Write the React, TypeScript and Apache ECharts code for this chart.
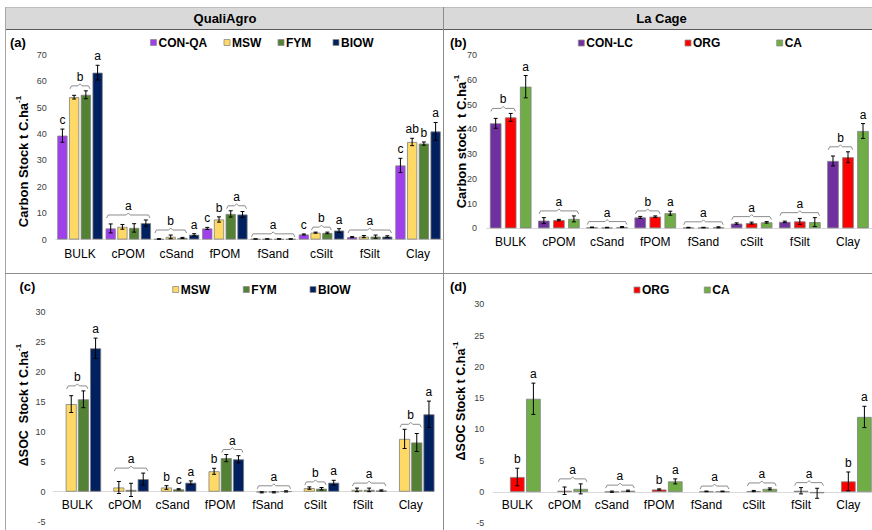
import React, { useEffect, useRef } from 'react';
import * as echarts from 'echarts';

const categories = ['BULK', 'cPOM', 'cSand', 'fPOM', 'fSand', 'cSilt', 'fSilt', 'Clay'];

const qualiNames = ['CON-QA', 'MSW', 'FYM', 'BIOW'];
const qualiColors = ['#a040ec', '#ffd966', '#548235', '#002060'];
const cageNames = ['CON-LC', 'ORG', 'CA'];
const cageColors = ['#7030a0', '#ff0000', '#70ad47'];

// (a) QualiAgro – carbon stock (t C/ha)
const stockCONQA = [39.4, 4.2, 0.2, 4.2, 0.2, 1.9, 0.9, 28.1];
const stockCONQAErr = [2.5, 1.7, 0.1, 0.4, 0.05, 0.2, 0.2, 2.7];
const stockMSW = [54.0, 4.8, 1.0, 7.6, 0.2, 2.6, 1.1, 37.0];
const stockMSWErr = [0.7, 0.9, 0.7, 1.0, 0.05, 0.2, 0.4, 1.4];
const stockFYM = [54.9, 4.4, 0.6, 9.7, 0.2, 2.5, 1.1, 36.4];
const stockFYMErr = [1.5, 1.6, 0.2, 1.2, 0.05, 0.3, 0.6, 0.6];
const stockBIOW = [63.3, 6.2, 1.8, 9.5, 0.2, 3.4, 1.1, 41.0];
const stockBIOWErr = [2.8, 1.2, 0.4, 1.1, 0.05, 0.7, 0.3, 3.4];

// (b) La Cage – carbon stock
const stockCONLC = [42.4, 3.1, 0.4, 4.4, 0.3, 1.9, 2.6, 27.2];
const stockCONLCErr = [2.0, 1.2, 0.1, 0.4, 0.1, 0.3, 0.3, 2.0];
const stockORG = [44.8, 3.3, 0.3, 4.7, 0.3, 2.1, 2.8, 28.7];
const stockORGErr = [1.6, 0.3, 0.1, 0.3, 0.1, 0.4, 1.2, 2.2];
const stockCA = [57.2, 3.8, 0.5, 6.1, 0.4, 2.4, 2.5, 39.3];
const stockCAErr = [4.5, 1.2, 0.2, 0.8, 0.2, 0.3, 1.8, 3.0];

// (c) QualiAgro – delta SOC stock
const deltaMSW = [14.6, 0.7, 0.7, 3.4, -0.1, 0.6, 0.3, 8.8];
const deltaMSWErr = [1.4, 1.0, 0.3, 0.5, 0.1, 0.2, 0.3, 1.6];
const deltaFYM = [15.4, 0.3, 0.4, 5.6, -0.1, 0.5, 0.3, 8.2];
const deltaFYMErr = [1.4, 1.1, 0.1, 0.6, 0.1, 0.2, 0.3, 1.5];
const deltaBIOW = [23.9, 2.1, 1.5, 5.4, 0.05, 1.5, 0.2, 12.9];
const deltaBIOWErr = [1.7, 1.0, 0.3, 0.6, 0.1, 0.4, 0.1, 2.2];

// (d) La Cage – delta SOC stock
const deltaORG = [2.4, 0.2, 0.05, 0.4, 0.1, 0.15, 0.2, 1.7];
const deltaORGErr = [1.4, 0.6, 0.1, 0.1, 0.05, 0.1, 0.5, 1.5];
const deltaCA = [14.9, 0.5, 0.2, 1.7, 0.1, 0.5, -0.2, 12.0];
const deltaCAErr = [2.5, 0.8, 0.1, 0.4, 0.05, 0.15, 0.8, 1.7];

// significance letters per category: [first slot, last slot, letter]
type Grp = [number, number, string];
const lettersA: Grp[][] = [
  [[0, 0, 'c'], [1, 2, 'b'], [3, 3, 'a']],
  [[0, 3, 'a']],
  [[0, 2, 'b'], [3, 3, 'a']],
  [[0, 0, 'c'], [1, 1, 'b'], [2, 3, 'a']],
  [[0, 3, 'a']],
  [[0, 0, 'c'], [1, 2, 'b'], [3, 3, 'a']],
  [[0, 3, 'a']],
  [[0, 0, 'c'], [1, 1, 'ab'], [2, 2, 'b'], [3, 3, 'a']],
];
const lettersB: Grp[][] = [
  [[0, 1, 'b'], [2, 2, 'a']],
  [[0, 2, 'a']],
  [[0, 2, 'a']],
  [[0, 1, 'b'], [2, 2, 'a']],
  [[0, 2, 'a']],
  [[0, 2, 'a']],
  [[0, 2, 'a']],
  [[0, 1, 'b'], [2, 2, 'a']],
];
const lettersC: Grp[][] = [
  [[1, 2, 'b'], [3, 3, 'a']],
  [[1, 3, 'a']],
  [[1, 1, 'b'], [2, 2, 'c'], [3, 3, 'a']],
  [[1, 1, 'b'], [2, 3, 'a']],
  [[1, 3, 'a']],
  [[1, 2, 'b'], [3, 3, 'a']],
  [[1, 3, 'a']],
  [[1, 2, 'b'], [3, 3, 'a']],
];
const lettersD: Grp[][] = [
  [[1, 1, 'b'], [2, 2, 'a']],
  [[1, 2, 'a']],
  [[1, 2, 'a']],
  [[1, 1, 'b'], [2, 2, 'a']],
  [[1, 2, 'a']],
  [[1, 2, 'a']],
  [[1, 2, 'a']],
  [[1, 1, 'b'], [2, 2, 'a']],
];

const yStockRange = [0, 70, 10];
const yDeltaRange = [-5, 30, 5];

const FONT = "'Liberation Sans', Arial, Helvetica, sans-serif";

type Panel = {
  names: string[];
  colors: string[];
  values: (number[] | null)[];
  errs: (number[] | null)[];
  letters: Grp[][];
  catGap: number;
  gap: number;
  range: number[];
};

const panels: Panel[] = [
  {
    names: qualiNames, colors: qualiColors,
    values: [stockCONQA, stockMSW, stockFYM, stockBIOW],
    errs: [stockCONQAErr, stockMSWErr, stockFYMErr, stockBIOWErr],
    letters: lettersA, catGap: 0.06, gap: 0.15, range: yStockRange,
  },
  {
    names: cageNames, colors: cageColors,
    values: [stockCONLC, stockORG, stockCA],
    errs: [stockCONLCErr, stockORGErr, stockCAErr],
    letters: lettersB, catGap: 0.137, gap: 0.3, range: yStockRange,
  },
  {
    names: qualiNames, colors: qualiColors,
    values: [null, deltaMSW, deltaFYM, deltaBIOW],
    errs: [null, deltaMSWErr, deltaFYMErr, deltaBIOWErr],
    letters: lettersC, catGap: 0.0, gap: 0.1, range: yDeltaRange,
  },
  {
    names: cageNames, colors: cageColors,
    values: [null, deltaORG, deltaCA],
    errs: [null, deltaORGErr, deltaCAErr],
    letters: lettersD, catGap: 0.01, gap: 0.1, range: yDeltaRange,
  },
];

const gridLayout = [
  { left: 55.86, top: 55, width: 386.3, height: 184.5 },
  { left: 486.6, top: 55, width: 385.5, height: 173.3 },
  { left: 53.5, top: 311.7, width: 381, height: 210 },
  { left: 493.66, top: 304.3, width: 378.3, height: 219 },
];
const yLabelMargins = [9, 9.5, 8, 9.5];
const xLabelMargins = [8, 8, 7, 7];

function slotGeom(api: any, cat: number, slot: number, p: Panel) {
  const center = api.coord([cat, 0])[0];
  const band = Math.abs(api.coord([1, 0])[0] - api.coord([0, 0])[0]);
  const n = p.values.length;
  const avail = band * (1 - p.catGap);
  const w = avail / (n + (n - 1) * p.gap);
  const sum = n * w + (n - 1) * p.gap * w;
  const left = center - sum / 2 + slot * w * (1 + p.gap);
  return { left, w, cx: left + w / 2 };
}

function buildOption() {
  const series: any[] = [];
  panels.forEach((p, pi) => {
    p.values.forEach((vals, s) => {
      series.push({
        type: 'bar',
        name: vals ? p.names[s] : '_empty' + pi,
        xAxisIndex: pi,
        yAxisIndex: pi,
        data: vals ? vals : categories.map(() => null),
        barCategoryGap: p.catGap * 100 + '%',
        barGap: p.gap * 100 + '%',
        itemStyle: { color: p.colors[s], borderColor: '#808080', borderWidth: 0.8 },
        silent: true,
        z: 2,
      });
    });

    const errData: number[][] = [];
    p.values.forEach((vals, s) => {
      if (!vals) return;
      const e = p.errs[s] as number[];
      vals.forEach((v, c) => errData.push([c, v - e[c], v + e[c], s]));
    });
    series.push({
      type: 'custom',
      xAxisIndex: pi,
      yAxisIndex: pi,
      silent: true,
      z: 4,
      data: errData,
      encode: { x: 0, y: [1, 2] },
      renderItem: (params: any, api: any) => {
        const c = api.value(0);
        const lo = api.value(1);
        const hi = api.value(2);
        const s = api.value(3);
        const g = slotGeom(api, c, s, p);
        const yLo = api.coord([c, lo])[1];
        const yHi = api.coord([c, hi])[1];
        const x = g.cx;
        const st = { stroke: '#000', lineWidth: 1 };
        return {
          type: 'group',
          children: [
            { type: 'line', shape: { x1: x, y1: yLo, x2: x, y2: yHi }, style: st },
            { type: 'line', shape: { x1: x - 2, y1: yLo, x2: x + 2, y2: yLo }, style: st },
            { type: 'line', shape: { x1: x - 2, y1: yHi, x2: x + 2, y2: yHi }, style: st },
          ],
        };
      },
    });

    const flat: { c: number; f: number; t: number; txt: string; top: number }[] = [];
    p.letters.forEach((groups, c) => {
      groups.forEach(([f, t, txt]) => {
        let top = 0;
        for (let s = f; s <= t; s++) {
          const vals = p.values[s];
          if (!vals) continue;
          const e = p.errs[s] as number[];
          top = Math.max(top, vals[c] + e[c], vals[c]);
        }
        flat.push({ c, f, t, txt, top });
      });
    });
    series.push({
      type: 'custom',
      xAxisIndex: pi,
      yAxisIndex: pi,
      silent: true,
      z: 5,
      data: flat.map((a, i) => [a.c, a.top, i]),
      encode: { x: 0, y: 1 },
      renderItem: (params: any, api: any) => {
        const a = flat[api.value(2)];
        const y0 = api.coord([a.c, a.top])[1];
        const g1 = slotGeom(api, a.c, a.f, p);
        const g2 = slotGeom(api, a.c, a.t, p);
        const textStyle = {
          fill: '#000', fontSize: 12, fontFamily: FONT, align: 'center', verticalAlign: 'bottom',
        };
        if (a.f === a.t) {
          return { type: 'text', style: { ...textStyle, text: a.txt, x: g1.cx, y: y0 - 3 } };
        }
        const x1 = g1.left + 1;
        const x2 = g2.left + g2.w - 1;
        const xm = (x1 + x2) / 2;
        const yb = y0 - 5;
        return {
          type: 'group',
          children: [
            {
              type: 'polyline',
              shape: {
                points: [
                  [x1, yb + 3], [x1 + 1.5, yb], [xm - 2, yb], [xm, yb - 2],
                  [xm + 2, yb], [x2 - 1.5, yb], [x2, yb + 3],
                ],
              },
              style: { stroke: '#8c8c8c', lineWidth: 1, fill: null },
            },
            { type: 'text', style: { ...textStyle, text: a.txt, x: xm, y: yb - 3 } },
          ],
        };
      },
    });
  });

  const graphic: any[] = [];
  graphic.push({ type: 'rect', shape: { x: 5, y: 7, width: 867, height: 22 }, style: { fill: '#d9d9d9' }, z: -10 });
  const line = (x1: number, y1: number, x2: number, y2: number, stroke: string) => ({
    type: 'line', shape: { x1, y1, x2, y2 }, style: { stroke, lineWidth: 1 }, z: 10,
  });
  graphic.push(line(5, 7.5, 872, 7.5, '#bfbfbf'));
  graphic.push(line(5, 29.5, 872, 29.5, '#595959'));
  graphic.push(line(5.5, 7, 5.5, 530, '#a6a6a6'));
  graphic.push(line(443.5, 7, 443.5, 530, '#8c8c8c'));
  graphic.push(line(5, 273.5, 872, 273.5, '#8c8c8c'));

  const hdr = (x: number, text: string) => ({
    type: 'text', x, y: 18.5, z: 11,
    style: { text, fill: '#000', fontSize: 13, fontWeight: 'bold', fontFamily: FONT, align: 'center', verticalAlign: 'middle' },
  });
  graphic.push(hdr(225, 'QualiAgro'));
  graphic.push(hdr(661.5, 'La Cage'));

  const plab = (x: number, y: number, text: string) => ({
    type: 'text', x, y, z: 11,
    style: { text, fill: '#000', fontSize: 13, fontWeight: 'bold', fontFamily: FONT, align: 'left', verticalAlign: 'middle' },
  });
  graphic.push(plab(10, 42.5, '(a)'));
  graphic.push(plab(450, 42.5, '(b)'));
  graphic.push(plab(19.5, 286, '(c)'));
  graphic.push(plab(450, 286, '(d)'));

  const ytitle = (x: number, y: number, main: string, size: number) => ({
    type: 'text', x, y, rotation: Math.PI / 2, z: 11,
    style: {
      text: '{m|' + main + '}{s|-1}',
      align: 'center',
      verticalAlign: 'middle',
      rich: {
        m: { fontSize: size, fontWeight: 'bold', fontFamily: FONT, fill: '#000', lineHeight: 16, verticalAlign: 'bottom' },
        s: { fontSize: 8, fontWeight: 'bold', fontFamily: FONT, fill: '#000', verticalAlign: 'top' },
      },
    },
  });
  graphic.push(ytitle(22, 161.5, 'Carbon Stock t C.ha', 13));
  graphic.push(ytitle(460, 141.5, 'Carbon stock  t C.ha', 13));
  graphic.push(ytitle(22, 405, '\u0394SOC  Stock t C.ha', 12.5));
  graphic.push(ytitle(459, 401, '\u0394SOC Stock t C.ha', 12.5));

  const legendLayout = [
    { y: 42.5, xs: [150.5, 224, 278, 333] },
    { y: 43, xs: [578.3, 685, 776.7] },
    { y: 289.5, xs: [172.7, 243.3, 310] },
    { y: 290, xs: [634, 704.3] },
  ];
  panels.forEach((p, pi) => {
    const lay = legendLayout[pi];
    let k = 0;
    p.values.forEach((vals, s) => {
      if (!vals) return;
      const x = lay.xs[k++];
      graphic.push({
        type: 'rect', z: 11,
        shape: { x, y: lay.y - 3, width: 6, height: 6 },
        style: { fill: p.colors[s], stroke: '#8c8c8c', lineWidth: 0.8 },
      });
      graphic.push({
        type: 'text', x: x + 8, y: lay.y, z: 11,
        style: { text: p.names[s], fill: '#000', fontSize: 12, fontWeight: 'bold', fontFamily: FONT, align: 'left', verticalAlign: 'middle' },
      });
    });
  });

  return {
    animation: false,
    backgroundColor: '#ffffff',
    textStyle: { fontFamily: FONT },
    grid: gridLayout.map((g) => ({ ...g, containLabel: false, outerBoundsMode: 'none' })),
    xAxis: panels.map((p, i) => {
      // move the category axis up to the zero level of the value axis
      const [mn, mx] = p.range;
      const zeroOffset = mn < 0 ? -(gridLayout[i].height * (0 - mn)) / (mx - mn) : 0;
      return {
        type: 'category',
        gridIndex: i,
        position: 'bottom',
        offset: zeroOffset,
        data: categories,
        axisTick: { show: false },
        axisLine: { show: true, onZero: false, lineStyle: { color: '#d9d9d9', width: 1 } },
        axisLabel: { fontSize: 12, color: '#000', fontFamily: FONT, margin: xLabelMargins[i], interval: 0 },
        splitLine: { show: false },
      };
    }),
    yAxis: panels.map((p, i) => ({
      type: 'value',
      gridIndex: i,
      min: p.range[0],
      max: p.range[1],
      interval: p.range[2],
      axisLine: { show: false },
      axisTick: { show: false },
      splitLine: { show: false },
      axisLabel: { fontSize: 9, color: '#404040', fontFamily: FONT, margin: yLabelMargins[i] },
    })),
    series,
    graphic,
  };
}

export default function App() {
  const ref = useRef<HTMLDivElement>(null);
  useEffect(() => {
    const chart = echarts.init(ref.current as HTMLDivElement, null, { renderer: 'svg' });
    chart.setOption(buildOption() as any);
    return () => chart.dispose();
  }, []);
  return (
    <div
      ref={ref}
      style={{ position: 'absolute', left: 0, top: 0, width: 872, height: 530, background: '#fff' }}
    />
  );
}
